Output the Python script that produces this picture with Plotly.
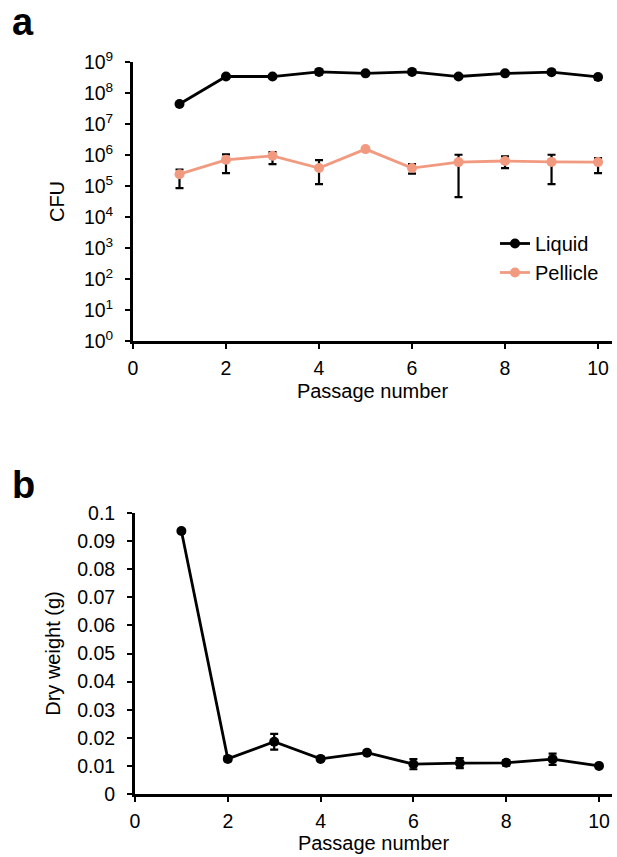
import plotly.graph_objects as go

# ---- data ----
passage = [1, 2, 3, 4, 5, 6, 7, 8, 9, 10]

liquid_cfu = [4.4e7, 3.4e8, 3.4e8, 4.8e8, 4.3e8, 4.8e8, 3.4e8, 4.3e8, 4.7e8, 3.3e8]
liquid_err_plus = [0.3e7, 0.2e8, 0.2e8, 0.8e8, 0.3e8, 0.4e8, 0.2e8, 0.3e8, 0.4e8, 0.5e8]
liquid_err_minus = [0.3e7, 0.2e8, 0.2e8, 0.8e8, 0.3e8, 0.4e8, 0.2e8, 0.3e8, 0.4e8, 0.6e8]

pellicle_cfu = [2.4e5, 7.0e5, 9.4e5, 3.8e5, 1.55e6, 3.8e5, 5.9e5, 6.4e5, 6.0e5, 5.9e5]
pellicle_upper = [3.4e5, 1.05e6, 1.25e6, 6.8e5, 1.6e6, 5.1e5, 1.02e6, 9.0e5, 1.02e6, 8.0e5]
pellicle_lower = [8.5e4, 2.6e5, 5.1e5, 1.15e5, 1.5e6, 2.5e5, 4.4e4, 3.8e5, 1.15e5, 2.6e5]

dry_weight = [0.0936, 0.0125, 0.0186, 0.0125, 0.0147, 0.0106, 0.0110, 0.0111, 0.0124, 0.0100]
dry_err = [0.0005, 0.0008, 0.0028, 0.0006, 0.0007, 0.0018, 0.0018, 0.0010, 0.0020, 0.0005]

log_ticks = [10 ** k for k in range(10)]
log_ticktext = ["10<sup>%d</sup>" % k for k in range(10)]
x_ticks = [0, 2, 4, 6, 8, 10]
b_ticks = [0, 0.01, 0.02, 0.03, 0.04, 0.05, 0.06, 0.07, 0.08, 0.09, 0.1]
b_ticktext = ["0", "0.01", "0.02", "0.03", "0.04", "0.05", "0.06", "0.07", "0.08", "0.09", "0.1"]

FONT = "Liberation Sans, Arial, Helvetica, sans-serif"
PELLICLE = "#F29A80"
W, H = 617, 857
FS = 19.5

fig = go.Figure()

fig.add_trace(go.Scatter(
    x=passage, y=liquid_cfu, name="Liquid", mode="lines+markers",
    line=dict(color="black", width=2.8), marker=dict(color="black", size=10),
    error_y=dict(type="data", symmetric=False, array=liquid_err_plus,
                 arrayminus=liquid_err_minus, color="black", thickness=2.2, width=4),
    xaxis="x", yaxis="y"))

fig.add_trace(go.Scatter(
    x=passage, y=pellicle_cfu, name="Pellicle", mode="lines+markers",
    line=dict(color=PELLICLE, width=2.8), marker=dict(color=PELLICLE, size=10),
    error_y=dict(type="data", symmetric=False,
                 array=[u - v for u, v in zip(pellicle_upper, pellicle_cfu)],
                 arrayminus=[v - l for v, l in zip(pellicle_cfu, pellicle_lower)],
                 color="black", thickness=2.2, width=4),
    xaxis="x", yaxis="y"))

fig.add_trace(go.Scatter(
    x=passage, y=dry_weight, name="Dry weight", mode="lines+markers", showlegend=False,
    line=dict(color="black", width=2.8), marker=dict(color="black", size=10),
    error_y=dict(type="data", array=dry_err, color="black", thickness=2.2, width=4),
    xaxis="x2", yaxis="y2"))

axis_common = dict(showline=True, linecolor="black", linewidth=2.8, ticks="outside",
                   ticklen=5, tickwidth=2.2, tickcolor="black", showgrid=False,
                   zeroline=False, tickfont=dict(family=FONT, size=FS, color="black"),
                   mirror=False, automargin=False)

fig.update_layout(
    template="none",
    width=W, height=H, margin=dict(l=0, r=0, t=0, b=0, autoexpand=False),
    paper_bgcolor="white", plot_bgcolor="white",
    font=dict(family=FONT, size=FS, color="black"),
    xaxis=dict(domain=[133 / W, 612 / W], range=[0, 10.3], tickvals=x_ticks,
               anchor="y", ticklabelstandoff=3,
               title=dict(text="Passage number", standoff=6,
                          font=dict(family=FONT, size=20)), **axis_common),
    yaxis=dict(domain=[1 - 341 / H, 1 - 62 / H], type="log", range=[0, 9],
               tickvals=log_ticks, ticktext=log_ticktext, anchor="x",
               ticklabelstandoff=8,
               title=dict(text="CFU", standoff=14, font=dict(family=FONT, size=20)),
               **axis_common),
    xaxis2=dict(domain=[135 / W, 612 / W], range=[0, 10.28], tickvals=x_ticks,
                anchor="y2", ticklabelstandoff=3,
                title=dict(text="Passage number", standoff=4,
                           font=dict(family=FONT, size=20)), **axis_common),
    yaxis2=dict(domain=[1 - 794 / H, 1 - 513 / H], range=[0, 0.1],
                tickvals=b_ticks, ticktext=b_ticktext, anchor="x2",
                ticklabelstandoff=8,
                title=dict(text="Dry weight (g)", standoff=12,
                           font=dict(family=FONT, size=20)), **axis_common),
    legend=dict(x=495 / W, y=1 - 224 / H, xanchor="left", yanchor="top",
                bgcolor="rgba(0,0,0,0)", font=dict(family=FONT, size=20),
                itemwidth=30, tracegroupgap=2),
    annotations=[
        dict(text="<b>a</b>", x=10 / W, y=1 - 22 / H, xref="paper", yref="paper",
             xanchor="left", yanchor="middle", showarrow=False,
             font=dict(family=FONT, size=38, color="black")),
        dict(text="<b>b</b>", x=10 / W, y=1 - 485 / H, xref="paper", yref="paper",
             xanchor="left", yanchor="middle", showarrow=False,
             font=dict(family=FONT, size=38, color="black")),
    ],
)

fig.write_html("out.html")
